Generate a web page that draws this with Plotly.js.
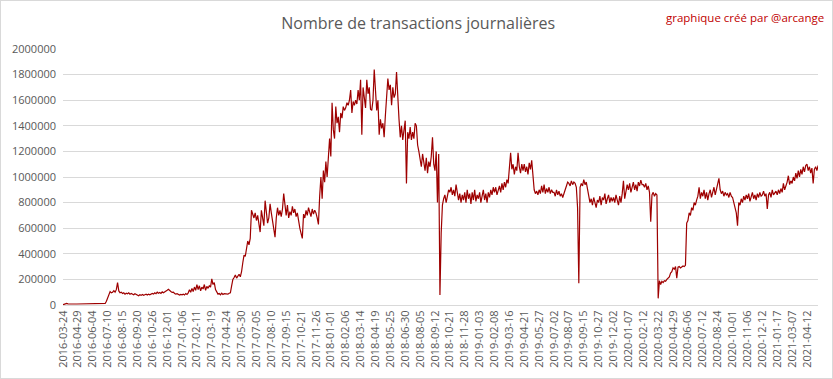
<!DOCTYPE html>
<html>
<head>
<meta charset="utf-8">
<script src="https://cdn.plot.ly/plotly-3.0.1.min.js"></script>
<style>
html,body{margin:0;padding:0;background:#fff;}
#chart{width:831px;height:377px;border:1px solid #d9d9d9;}
</style>
</head>
<body>
<div id="chart"></div>
<script>
const tickLabels = [
"2016-03-24","2016-04-29","2016-06-04","2016-07-10","2016-08-15","2016-09-20","2016-10-26","2016-12-01",
"2017-01-06","2017-02-11","2017-03-19","2017-04-24","2017-05-30","2017-07-05","2017-08-10","2017-09-15","2017-10-21","2017-11-26",
"2018-01-01","2018-02-06","2018-03-14","2018-04-19","2018-05-25","2018-06-30","2018-08-05","2018-09-12","2018-10-21","2018-11-28",
"2019-01-03","2019-02-08","2019-03-16","2019-04-21","2019-05-27","2019-07-02","2019-08-07","2019-09-15","2019-10-27","2019-12-02",
"2020-01-07","2020-02-12","2020-03-22","2020-04-29","2020-06-06","2020-07-12","2020-08-24","2020-10-01","2020-11-06","2020-12-12",
"2021-01-17","2021-03-07","2021-04-12"
];
const stepDays = 3;
const samplesPerLabel = 12;

const transactions = [
2000,6000,10000,12000,9000,8000,8000,7000,8000,8000,8000,8000,
8000,7000,8000,8000,7000,8000,8000,7000,8000,8000,7000,8000,
8000,8000,8000,9000,9000,9000,9000,10000,10000,10000,12000,30000,
60000,85000,105000,95000,100000,112000,100000,120000,175000,110000,95000,100000,
90000,95000,85000,92000,88000,95000,84000,90000,86000,80000,88000,82000,
78000,72000,80000,75000,82000,76000,80000,84000,78000,85000,80000,88000,
90000,85000,95000,88000,100000,92000,98000,90000,102000,95000,100000,108000,
115000,122000,110000,105000,98000,100000,90000,85000,88000,80000,78000,82000,
80000,85000,78000,90000,82000,95000,120000,100000,130000,105000,140000,115000,
160000,120000,150000,110000,140000,125000,160000,115000,145000,130000,150000,140000,
205000,160000,175000,120000,95000,85000,90000,80000,92000,82000,88000,85000,
88000,85000,92000,95000,150000,200000,215000,235000,210000,225000,240000,220000,
260000,330000,390000,380000,450000,500000,470000,520000,740000,700000,680000,720000,
660000,700000,620000,570000,740000,680000,620000,815000,700000,640000,680000,790000,
720000,650000,600000,530000,680000,760000,700000,740000,690000,750000,870000,760000,
700000,780000,680000,730000,700000,770000,720000,750000,690000,720000,650000,600000,
560000,520000,710000,680000,740000,700000,760000,720000,690000,750000,710000,740000,
720000,680000,630000,850000,1000000,830000,1050000,960000,1120000,1000000,1200000,1300000,
1160000,1580000,1370000,1300000,1550000,1420000,1470000,1350000,1500000,1460000,1550000,1520000,
1540000,1580000,1560000,1600000,1680000,1500000,1590000,1560000,1600000,1570000,1680000,1600000,
1760000,1330000,1700000,1620000,1540000,1760000,1650000,1700000,1530000,1520000,1600000,1840000,
1650000,1520000,1600000,1330000,1450000,1380000,1420000,1310000,1480000,1600000,1770000,1680000,
1720000,1560000,1700000,1620000,1650000,1820000,1600000,1450000,1310000,1400000,1290000,1380000,
1440000,950000,1350000,1300000,1390000,1290000,1350000,1300000,1420000,1400000,1250000,1200000,
1150000,1080000,1180000,1100000,1050000,1150000,1030000,1120000,1080000,1160000,1310000,1100000,
1050000,1200000,800000,1180000,78000,560000,780000,830000,860000,800000,850000,900000,
880000,920000,860000,900000,850000,940000,880000,820000,870000,800000,860000,820000,
880000,800000,900000,830000,870000,790000,880000,820000,900000,810000,860000,830000,
880000,800000,850000,900000,820000,870000,800000,880000,840000,900000,860000,920000,
880000,920000,860000,900000,930000,880000,950000,900000,960000,920000,980000,950000,
1100000,1190000,1060000,1100000,1020000,1080000,1050000,1190000,1080000,1030000,1100000,1050000,
1100000,1040000,1080000,1020000,1110000,1060000,1130000,980000,900000,870000,890000,860000,
900000,870000,930000,880000,940000,870000,910000,880000,920000,870000,900000,880000,
880000,850000,900000,860000,890000,850000,870000,840000,880000,900000,930000,960000,
950000,930000,970000,940000,960000,950000,920000,760000,170000,920000,950000,930000,
980000,940000,960000,900000,850000,800000,830000,780000,840000,800000,760000,820000,
800000,850000,780000,840000,820000,870000,790000,830000,860000,800000,840000,810000,
840000,800000,860000,820000,780000,850000,800000,870000,970000,830000,880000,940000,
900000,950000,880000,930000,960000,900000,940000,890000,960000,930000,975000,940000,
940000,920000,950000,900000,930000,880000,650000,860000,880000,850000,870000,860000,
52000,190000,160000,185000,175000,190000,185000,200000,210000,220000,250000,260000,
290000,280000,300000,210000,295000,300000,290000,300000,305000,300000,310000,640000,
660000,720000,700000,760000,740000,800000,780000,820000,850000,920000,830000,880000,
850000,900000,830000,880000,820000,870000,900000,840000,880000,920000,860000,900000,
940000,990000,900000,870000,890000,850000,880000,860000,870000,840000,880000,850000,
840000,800000,760000,720000,620000,800000,780000,830000,800000,850000,820000,860000,
830000,870000,810000,850000,880000,830000,860000,820000,870000,840000,880000,850000,
860000,890000,850000,870000,750000,860000,880000,840000,900000,860000,880000,890000,
860000,900000,870000,910000,880000,950000,900000,930000,960000,1010000,940000,970000,
950000,1000000,970000,1030000,990000,1050000,1000000,1060000,1020000,1080000,1040000,1090000,
1100000,1050000,1080000,1030000,1070000,950000,1060000,1080000,1050000,1090000
];

const dates = transactions.map((v, s) => {
  const seg = Math.floor(s / samplesPerLabel);
  const d = new Date(tickLabels[seg] + "T00:00:00Z");
  d.setUTCDate(d.getUTCDate() + stepDays * (s % samplesPerLabel));
  return d.toISOString().slice(0, 10);
});

const font = "Open Sans, Noto Sans, sans-serif";
const data = [{
  type: "scatter", mode: "lines",
  x: dates, y: transactions,
  line: {color: "#9e0000", width: 1.2},
  hoverinfo: "x+y"
}];

const layout = {
  width: 831, height: 377,
  margin: {l: 62, r: 14, t: 48, b: 73, pad: 0},
  paper_bgcolor: "#ffffff", plot_bgcolor: "#ffffff",
  showlegend: false,
  title: {
    text: "Nombre de transactions journalières",
    font: {family: font, size: 16, color: "#595959"},
    x: 0.502, xref: "container", xanchor: "center",
    y: 0.94, yref: "container", yanchor: "middle"
  },
  xaxis: {
    type: "category",
    range: [0, 608.9],
    tickmode: "array", tickvals: tickLabels, ticktext: tickLabels,
    tickangle: -90,
    tickfont: {family: font, size: 11, color: "#595959"},
    showgrid: false, showline: true, linecolor: "#d9d9d9", linewidth: 1,
    ticks: "", zeroline: false
  },
  yaxis: {
    range: [0, 2000000], dtick: 200000, tick0: 0,
    tickformat: "d",
    tickfont: {family: font, size: 11, color: "#595959"},
    gridcolor: "#d9d9d9", gridwidth: 1,
    showline: false, zeroline: false, ticks: "",
    ticklabelstandoff: 6
  },
  annotations: [{
    text: "graphique créé par @arcange",
    xref: "paper", yref: "paper",
    x: 1.011, y: 1.125, xanchor: "right", yanchor: "middle",
    showarrow: false,
    font: {family: font, size: 11.5, color: "#c00000"}
  }]
};

Plotly.newPlot("chart", data, layout, {displayModeBar: false, staticPlot: true});
</script>
</body>
</html>
